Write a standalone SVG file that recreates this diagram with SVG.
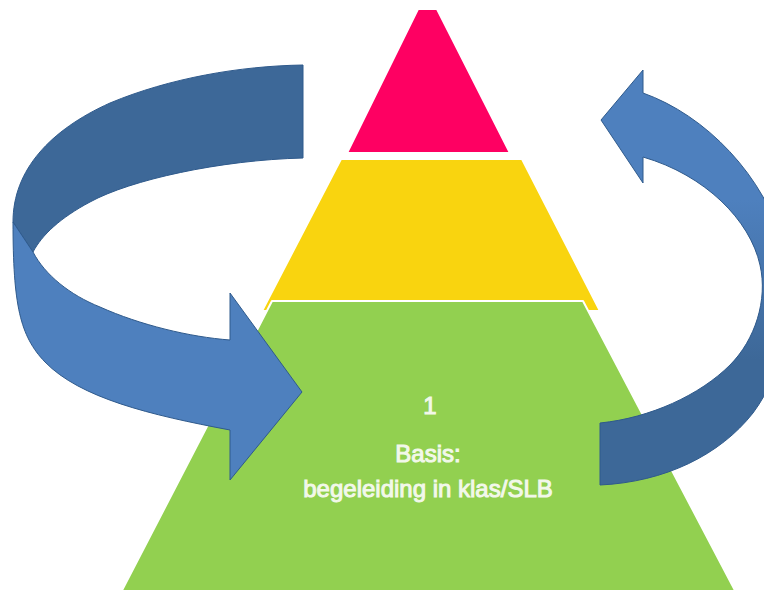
<svg xmlns="http://www.w3.org/2000/svg" width="764" height="590" viewBox="0 0 764 590">
<style>
.tier{stroke:#ffffff;stroke-width:2;stroke-linejoin:round}
.arrow{stroke:#2f5a8c;stroke-width:1;stroke-linejoin:round}
.lbl{font-family:"Liberation Sans",Arial,sans-serif;font-size:24px;fill:#f2f8ea;stroke:#f2f8ea;stroke-width:1;text-anchor:middle}
</style>
<defs>
<linearGradient id="rg" x1="0" y1="200" x2="0" y2="360" gradientUnits="userSpaceOnUse">
<stop offset="0" stop-color="#4e80be"/>
<stop offset="1" stop-color="#3d6898"/>
</linearGradient>
</defs>
<rect width="764" height="590" fill="#ffffff"/>
<g id="tier3">
<polygon class="tier" fill="#fe0062" points="418,9 437,9 510,153 347,153"/>
</g>
<g id="tier2">
<polygon class="tier" fill="#f9d40f" points="341,159 522,159 600,311 262,311"/>
</g>
<g id="tier1">
<polygon class="tier" fill="#92d050" points="272,301 583,301 740,600 117,600"/>
<text class="lbl" x="430" y="414">1</text>
<text class="lbl" x="428" y="462">Basis:</text>
<text class="lbl" x="428" y="497">begeleiding in klas/SLB</text>
</g>
<g id="connectors">
<g id="arrow-left">
<path class="arrow" fill="#3d6898" d="M303,65 L303,158 C220,160 130,180 90,202 C60,218 42,235 33,252 L13,222 C13,170 50,130 110,103 C170,78 240,66 303,65 Z"/>
<path class="arrow" fill="#4e80be" d="M13,222 L33,252 C45,275 70,295 100,307 C140,325 190,337 230,340 L230,293 L302,392 L230,480 L230,430 C150,415 80,398 45,362 C20,336 13,305 13,222 Z"/>
</g>
<g id="arrow-right">
<path class="arrow" fill="url(#rg)" d="M643,93 C705,115 765,175 785,250 C795,310 785,370 753,413 C720,455 665,482 600,485 L600,423 C650,418 700,395 730,365 C755,340 768,300 760,265 C750,220 705,175 643,157 L643,183 L601,120 L643,70 Z"/>
</g>
</g>
</svg>
